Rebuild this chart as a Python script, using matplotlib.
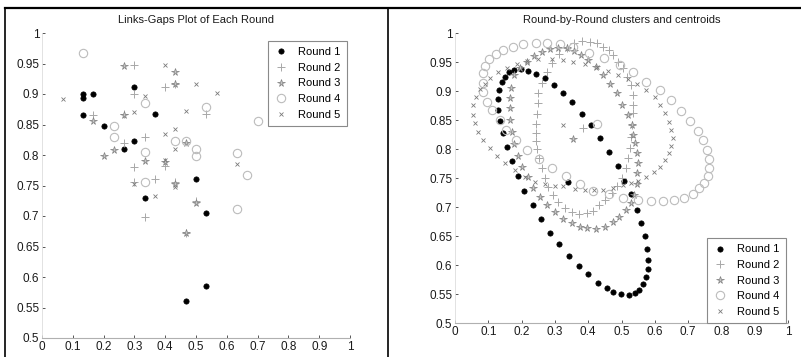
import numpy as np
import matplotlib
matplotlib.use('Agg')
import matplotlib.pyplot as plt
from matplotlib.lines import Line2D

plt.rcParams['font.family'] = ['Liberation Sans Narrow', 'Liberation Sans', 'DejaVu Sans']

labels = ['Round 1', 'Round 2', 'Round 3', 'Round 4', 'Round 5']

# left panel: links-gaps points of each round
r1_x = [0.133, 0.133, 0.133, 0.167, 0.2, 0.267, 0.3, 0.3, 0.333, 0.367, 0.467, 0.5, 0.533, 0.533]
r1_y = [0.9, 0.894, 0.866, 0.9, 0.848, 0.81, 0.912, 0.823, 0.73, 0.867, 0.56, 0.76, 0.705, 0.585]
r2_x = [0.167, 0.267, 0.3, 0.3, 0.333, 0.3, 0.3, 0.367, 0.333, 0.4, 0.4, 0.433, 0.533, 0.5, 0.467, 0.433, 0.267]
r2_y = [0.866, 0.82, 0.948, 0.9, 0.83, 0.78, 0.755, 0.76, 0.698, 0.912, 0.782, 0.755, 0.868, 0.724, 0.672, 0.916, 0.868]
r3_x = [0.267, 0.167, 0.2, 0.233, 0.267, 0.333, 0.433, 0.433, 0.467, 0.4, 0.5, 0.467, 0.433]
r3_y = [0.946, 0.856, 0.798, 0.808, 0.866, 0.79, 0.936, 0.916, 0.82, 0.788, 0.722, 0.672, 0.752]
r4_x = [0.133, 0.333, 0.233, 0.233, 0.333, 0.333, 0.433, 0.467, 0.5, 0.5, 0.533, 0.633, 0.667, 0.633, 0.7]
r4_y = [0.967, 0.886, 0.848, 0.83, 0.805, 0.755, 0.823, 0.823, 0.81, 0.798, 0.879, 0.804, 0.767, 0.711, 0.855]
r5_x = [0.067, 0.4, 0.333, 0.3, 0.5, 0.567, 0.467, 0.433, 0.4, 0.433, 0.633, 0.367, 0.433, 0.3, 0.4]
r5_y = [0.891, 0.947, 0.897, 0.871, 0.916, 0.902, 0.872, 0.842, 0.834, 0.81, 0.785, 0.733, 0.748, 0.753, 0.792]

# right panel: clusters of each round
c1_x = [0.130, 0.133, 0.140, 0.149, 0.161, 0.177, 0.197, 0.218, 0.243, 0.269,
        0.296, 0.324, 0.352, 0.381, 0.409, 0.436, 0.463, 0.489, 0.509, 0.530,
        0.547, 0.560, 0.572, 0.577, 0.580, 0.579, 0.575, 0.566, 0.553, 0.541,
        0.523, 0.499, 0.475, 0.455, 0.430, 0.400, 0.372, 0.343, 0.313, 0.285,
        0.259, 0.233, 0.208, 0.188, 0.171, 0.155, 0.145, 0.135, 0.130]
c1_y = [0.887, 0.901, 0.916, 0.924, 0.933, 0.937, 0.938, 0.935, 0.930, 0.922,
        0.911, 0.897, 0.881, 0.861, 0.841, 0.819, 0.795, 0.771, 0.745, 0.722,
        0.696, 0.673, 0.650, 0.628, 0.609, 0.593, 0.579, 0.567, 0.558, 0.553,
        0.549, 0.550, 0.554, 0.560, 0.569, 0.585, 0.599, 0.616, 0.636, 0.656,
        0.680, 0.704, 0.728, 0.753, 0.779, 0.804, 0.827, 0.849, 0.868]
c2_x = [0.249, 0.248, 0.246, 0.243, 0.243, 0.243, 0.246, 0.252, 0.261, 0.270,
        0.279, 0.294, 0.309, 0.330, 0.350, 0.372, 0.395, 0.415, 0.432, 0.450,
        0.471, 0.486, 0.500, 0.514, 0.520, 0.525, 0.528, 0.532, 0.534, 0.534,
        0.534, 0.528, 0.516, 0.505, 0.489, 0.474, 0.462, 0.444, 0.426, 0.405,
        0.381, 0.358, 0.335, 0.312, 0.292, 0.275, 0.261]
c2_y = [0.897, 0.879, 0.861, 0.843, 0.828, 0.814, 0.800, 0.785, 0.768, 0.750,
        0.735, 0.721, 0.709, 0.699, 0.691, 0.689, 0.690, 0.694, 0.703, 0.713,
        0.725, 0.737, 0.750, 0.768, 0.785, 0.802, 0.821, 0.842, 0.862, 0.876,
        0.893, 0.910, 0.924, 0.940, 0.950, 0.962, 0.971, 0.976, 0.983, 0.985,
        0.986, 0.983, 0.975, 0.963, 0.948, 0.932, 0.914]
c3_x = [0.168, 0.165, 0.165, 0.165, 0.171, 0.177, 0.189, 0.201, 0.219, 0.234,
        0.255, 0.276, 0.300, 0.324, 0.351, 0.375, 0.396, 0.423, 0.450, 0.474,
        0.492, 0.514, 0.528, 0.538, 0.547, 0.547, 0.550, 0.547, 0.541, 0.535,
        0.532, 0.520, 0.503, 0.486, 0.465, 0.444, 0.423, 0.400, 0.378, 0.357,
        0.335, 0.310, 0.285, 0.260, 0.237, 0.215, 0.195, 0.177]
c3_y = [0.905, 0.888, 0.871, 0.851, 0.830, 0.808, 0.788, 0.770, 0.752, 0.733,
        0.718, 0.704, 0.692, 0.680, 0.673, 0.666, 0.664, 0.663, 0.666, 0.674,
        0.683, 0.695, 0.707, 0.721, 0.740, 0.759, 0.776, 0.793, 0.811, 0.824,
        0.842, 0.859, 0.876, 0.896, 0.912, 0.928, 0.942, 0.954, 0.962, 0.969,
        0.974, 0.975, 0.973, 0.968, 0.960, 0.950, 0.940, 0.928]
c4_x = [0.084, 0.084, 0.096, 0.111, 0.135, 0.153, 0.183, 0.216, 0.252, 0.291,
        0.333, 0.375, 0.415, 0.463, 0.505, 0.550, 0.588, 0.625, 0.658, 0.688,
        0.714, 0.733, 0.748, 0.760, 0.763, 0.763, 0.757, 0.745, 0.730, 0.706,
        0.679, 0.649, 0.616, 0.574, 0.535, 0.495, 0.447, 0.402, 0.355, 0.315,
        0.276, 0.243, 0.204, 0.174, 0.144, 0.123, 0.102, 0.090, 0.084]
c4_y = [0.914, 0.898, 0.881, 0.867, 0.850, 0.833, 0.816, 0.799, 0.783, 0.768,
        0.754, 0.740, 0.728, 0.722, 0.716, 0.712, 0.710, 0.710, 0.713, 0.716,
        0.723, 0.733, 0.742, 0.754, 0.768, 0.783, 0.799, 0.816, 0.831, 0.849,
        0.866, 0.885, 0.902, 0.916, 0.933, 0.945, 0.957, 0.966, 0.976, 0.981,
        0.983, 0.983, 0.981, 0.976, 0.971, 0.964, 0.955, 0.943, 0.931]
c5_x = [0.054, 0.054, 0.060, 0.069, 0.084, 0.105, 0.126, 0.150, 0.180, 0.210,
        0.240, 0.270, 0.300, 0.325, 0.360, 0.390, 0.418, 0.445, 0.475, 0.505,
        0.530, 0.550, 0.575, 0.598, 0.616, 0.631, 0.643, 0.649, 0.655, 0.649,
        0.643, 0.631, 0.616, 0.600, 0.575, 0.547, 0.520, 0.490, 0.460, 0.425,
        0.390, 0.355, 0.323, 0.290, 0.250, 0.215, 0.185, 0.155, 0.130, 0.105,
        0.090, 0.075, 0.062]
c5_y = [0.876, 0.859, 0.845, 0.830, 0.816, 0.802, 0.788, 0.776, 0.764, 0.752,
        0.744, 0.740, 0.737, 0.736, 0.732, 0.730, 0.729, 0.729, 0.733, 0.738,
        0.742, 0.745, 0.752, 0.760, 0.769, 0.781, 0.793, 0.806, 0.819, 0.833,
        0.847, 0.862, 0.876, 0.890, 0.902, 0.912, 0.920, 0.928, 0.935, 0.942,
        0.947, 0.950, 0.953, 0.955, 0.955, 0.952, 0.947, 0.940, 0.932, 0.922,
        0.912, 0.903, 0.890]
cent_x = [0.34, 0.383, 0.355, 0.425, 0.325]
cent_y = [0.744, 0.837, 0.818, 0.844, 0.842]

styles = [
    dict(marker='o', ms=3.8, mfc='black', mec='black', mew=0.5),
    dict(marker='+', ms=6, mfc='none', mec='#a8a8a8', mew=0.7),
    dict(marker='*', ms=5.5, mfc='#c4c4c4', mec='#808080', mew=0.5),
    dict(marker='o', ms=6, mfc='none', mec='#bcbcbc', mew=0.8),
    dict(marker='x', ms=3, mfc='none', mec='#7a7a7a', mew=0.6),
]

fig = plt.figure(figsize=(8.01, 3.57), dpi=100)
ax1 = fig.add_axes([42/801, 1-338/357, 308/801, 305/357])
ax2 = fig.add_axes([455/801, 1-323.3/357, 333/801, 290.3/357])

left_sets = [(r1_x, r1_y), (r2_x, r2_y), (r3_x, r3_y), (r4_x, r4_y), (r5_x, r5_y)]
right_sets = [(c1_x, c1_y), (c2_x, c2_y), (c3_x, c3_y), (c4_x, c4_y), (c5_x, c5_y)]

for i, (xs, ys) in enumerate(left_sets):
    ax1.plot(xs, ys, ls='none', label=labels[i], **styles[i])
for i, (xs, ys) in enumerate(right_sets):
    ax2.plot(xs, ys, ls='none', label=labels[i], **styles[i])
    ax2.plot([cent_x[i]], [cent_y[i]], ls='none', **styles[i])

xt = np.round(np.arange(0, 1.01, 0.1), 2)
yt = np.round(np.arange(0.5, 1.001, 0.05), 2)
for ax in (ax1, ax2):
    ax.set_xlim(0, 1)
    ax.set_ylim(0.5, 1)
    ax.set_xticks(xt)
    ax.set_xticklabels(['%g' % v for v in xt])
    ax.set_yticks(yt)
    ax.set_yticklabels(['%g' % v for v in yt])
    for s in ['top', 'right']:
        ax.spines[s].set_visible(False)
    ax.spines['bottom'].set_color('#b0b0b0')
    ax.spines['bottom'].set_linewidth(0.8)
    ax.spines['left'].set_color('#dddddd')
    ax.spines['left'].set_linewidth(0.6)
    ax.tick_params(direction='in', length=2, width=0.7, colors='#555555',
                   labelcolor='#1a1a1a', labelsize=8.5, pad=2)

ax1.set_title('Links-Gaps Plot of Each Round', fontsize=8, pad=7, color='#1a1a1a')
ax2.set_title('Round-by-Round clusters and centroids', fontsize=8, pad=7, color='#1a1a1a')

leg_kw = dict(fontsize=8, fancybox=False, framealpha=1, edgecolor='#8a8a8a',
              borderaxespad=0, labelspacing=0.5, handletextpad=0.9, borderpad=0.6,
              handlelength=1.2)
l1 = ax1.legend(loc='upper right', bbox_to_anchor=(0.99, 0.975), **leg_kw)
l2 = ax2.legend(loc='lower right', bbox_to_anchor=(0.994, 0.0), **leg_kw)
for l in (l1, l2):
    l.get_frame().set_linewidth(0.8)

# outer frame lines
ytop = 1 - 8/357
fig.add_artist(Line2D([5/801, 1], [ytop, ytop], color='black', lw=1.6))
fig.add_artist(Line2D([5/801, 5/801], [0, ytop], color='black', lw=1.2))
fig.add_artist(Line2D([388/801, 388/801], [0, ytop], color='black', lw=1.2))

fig.savefig('out.png', dpi=100)
